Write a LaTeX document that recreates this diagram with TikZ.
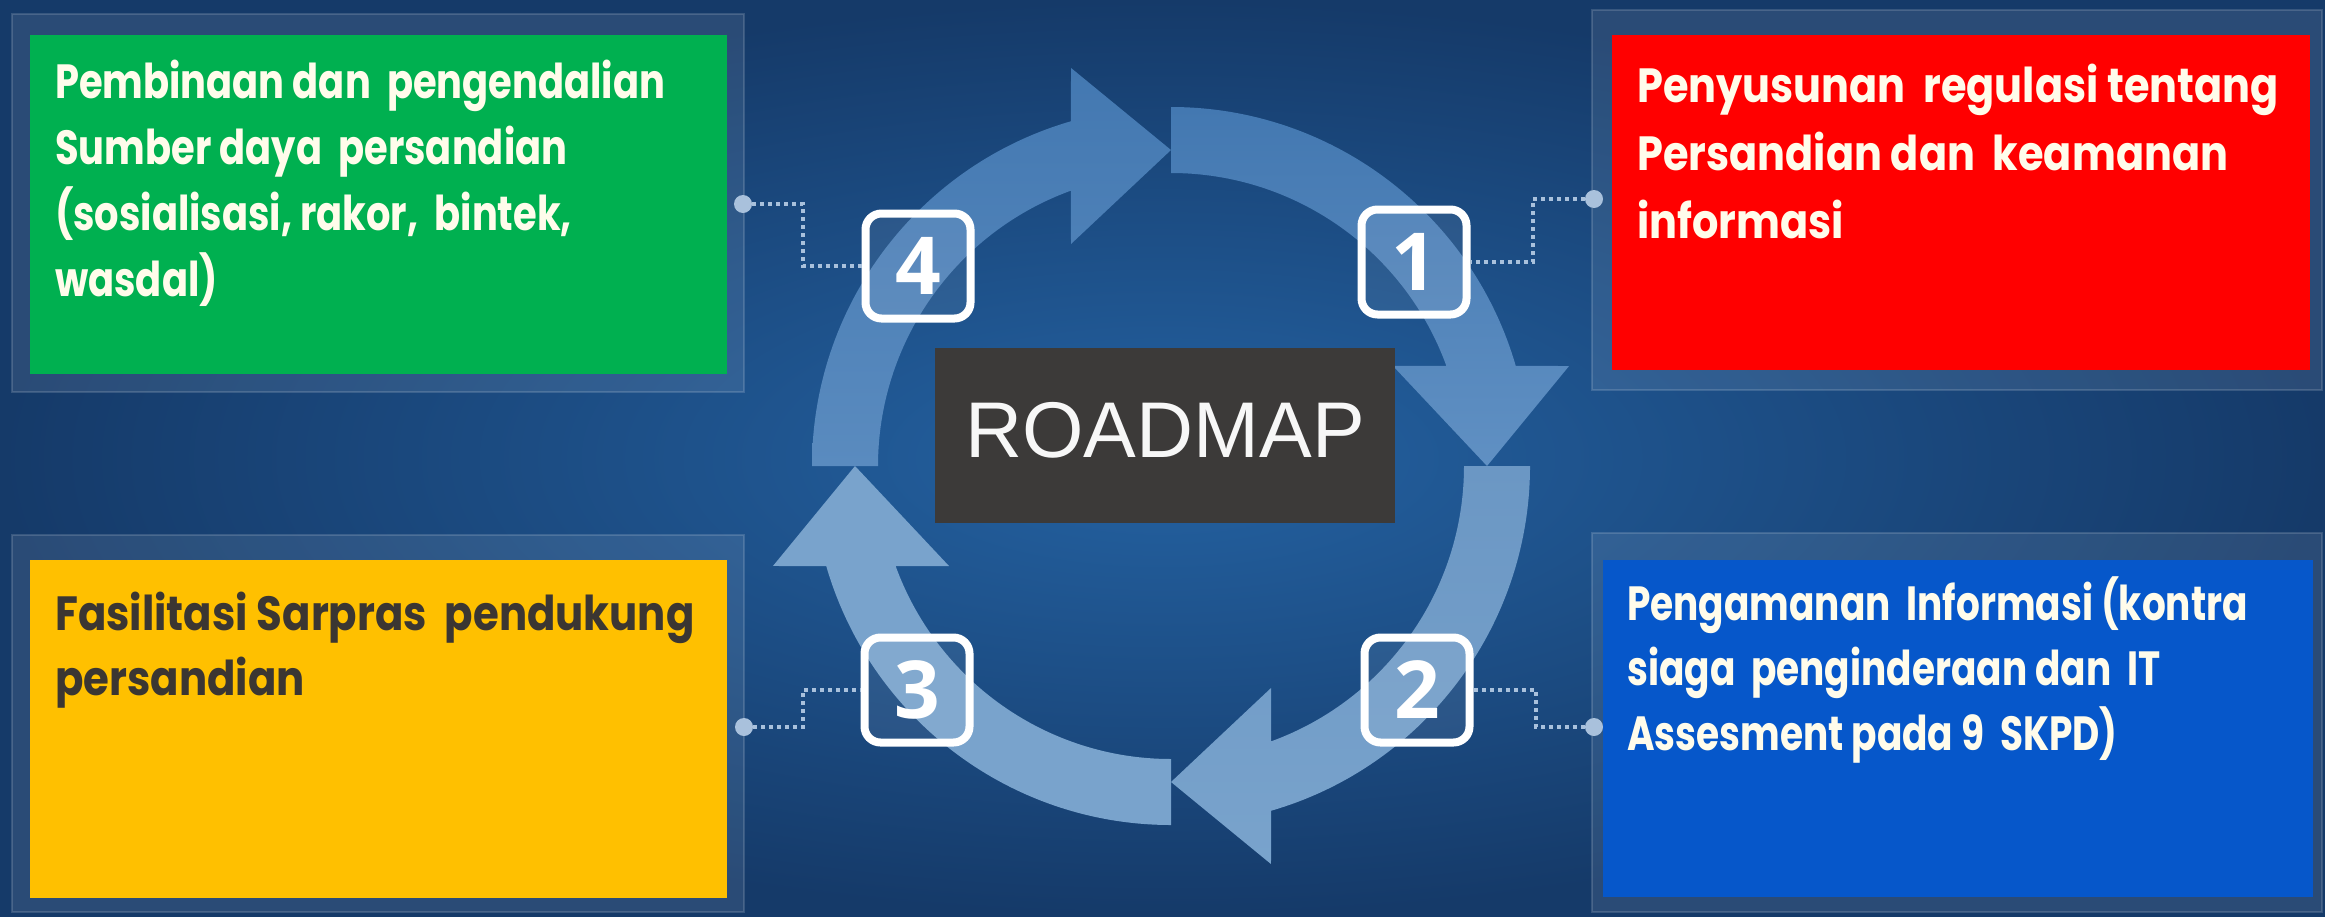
\documentclass[tikz,border=0pt]{standalone}
\usepackage{fontspec}
\setmainfont{Liberation Sans}
\newfontfamily\boxfont[FakeStretch=0.8]{Poppins}
\newfontfamily\numfont{Open Sans}
\definecolor{bgin}{HTML}{2462A2}
\definecolor{bgout}{HTML}{153A69}
\definecolor{cgreen}{HTML}{00B050}
\definecolor{cred}{HTML}{FF0000}
\definecolor{cyellow}{HTML}{FFC000}
\definecolor{cblue}{HTML}{0657CA}
\definecolor{cream}{HTML}{FFFCEB}
\definecolor{darktxt}{HTML}{3B3632}
\definecolor{roadbox}{HTML}{3C3A39}
\definecolor{dotc}{HTML}{A9C1DC}
\definecolor{arrA}{HTML}{4378B1}
\definecolor{arrB}{HTML}{6090C3}
\definecolor{arrC}{HTML}{6B97C4}
\definecolor{arrD}{HTML}{79A3CC}
\definecolor{arrE}{HTML}{5A8BBF}
\begin{document}
\begin{tikzpicture}[x=1pt,y=-1pt,
  frame/.style={fill=white, fill opacity=0.09, draw=white, draw opacity=0.15, line width=2pt},
  card/.style={anchor=north west, inner sep=0pt, outer sep=0pt},
  txt/.style={anchor=base west, inner sep=0pt, font=\boxfont\bfseries\fontsize{48}{66}\selectfont},
  numbox/.style={draw=white, line width=8pt, rounded corners=16pt, minimum size=105pt, fill=white, fill opacity=0.07, text opacity=1, font=\numfont\bfseries\fontsize{80}{80}\selectfont, text=white, inner sep=0pt},
  conn/.style={draw=dotc, line width=3.5pt, dash pattern=on 3.5pt off 4.5pt},
  dotnode/.style={circle, fill=dotc, minimum size=18pt, inner sep=0pt},
]
\useasboundingbox (0,0) rectangle (2325,916);
\shade[inner color=bgin, outer color=bgout] (0,0) rectangle (2325,916);

% frames
\path[frame] (12,14) rectangle (744,392);
\path[frame] (1592,10) rectangle (2322,390);
\path[frame] (12,535) rectangle (744,912);
\path[frame] (1592,533) rectangle (2322,912);

% cards
\node[card, fill=cgreen, minimum width=697pt, minimum height=339pt] (green) at (30,35) {};
\node[card, fill=cred, minimum width=698pt, minimum height=335pt] (red) at (1612,35) {};
\node[card, fill=cyellow, minimum width=697pt, minimum height=338pt] (yellow) at (30,560) {};
\node[card, fill=cblue, minimum width=710pt, minimum height=337pt] (blue) at (1603,560) {};

\node[txt, text=cream] (tgreen) at (55,98) {\vtop{\baselineskip=66pt
  \hbox{Pembinaan dan~ pengendalian}\hbox{Sumber daya~ persandian}\hbox{(sosialisasi, rakor,~ bintek,}\hbox{wasdal)}}};
\node[txt, text=cream] (tred) at (1637,102) {\scalebox{1.08}[1]{\vtop{\baselineskip=68pt
  \hbox{Penyusunan~ regulasi tentang}\hbox{Persandian dan~ keamanan}\hbox{informasi}}}};
\node[txt, text=darktxt] (tyellow) at (55,630) {\scalebox{1.09}[1]{\vtop{\baselineskip=65pt
  \hbox{Fasilitasi Sarpras~ pendukung}\hbox{persandian}}}};
\node[txt, text=cream] (tblue) at (1627,620) {\scalebox{0.975}[1]{\vtop{\baselineskip=65pt
  \hbox{Pengamanan~ Informasi (kontra}\hbox{siaga~ penginderaan dan~ IT}\hbox{Assesment pada 9~ SKPD)}}}};

% circular arrows
\begin{scope}[shift={(1171,466)}]
\foreach \k/\ca/\cb in {0/arrA/arrB, 1/arrC/arrD, 2/arrD/arrD, 3/arrA/arrE}{
  \path[top color=\ca, bottom color=\cb, draw=none]
    ({-90+90*\k}:359) arc[start angle={-90+90*\k}, end angle={-16.2+90*\k}, radius=359]
    -- ({-14.1+90*\k}:410.4) -- ({90*\k}:316) -- ({-24.25+90*\k}:243.5)
    -- ({-19.98+90*\k}:293) arc[start angle={-19.98+90*\k}, end angle={-90+90*\k}, radius=293]
    -- cycle;
}
\end{scope}

% roadmap
\node[card, fill=roadbox, minimum width=460pt, minimum height=175pt] (rm) at (935,348) {};
\node[anchor=base, inner sep=0pt, text=white!94!gray, font=\fontsize{79}{79}\selectfont] (rmtext) at (1165,457) {ROADMAP};

% number boxes
\node[numbox] (n1) at (1414,262) {1};
\node[numbox] (n2) at (1417,690) {2};
\node[numbox] (n3) at (917,690) {3};
\node[numbox] (n4) at (918,266) {4};

% connectors
\node[dotnode] (d1) at (1594,199) {};
\node[dotnode] (d2) at (1594,727) {};
\node[dotnode] (d3) at (744,727) {};
\node[dotnode] (d4) at (743,204) {};
\coordinate (k1) at (1533,199);
\coordinate (k2) at (1536,727);
\coordinate (k3) at (803,727);
\coordinate (k4) at (803,204);
\draw[conn] (d1) -- (k1) |- (n1.east);
\draw[conn] (d2) -- (k2) |- (n2.east);
\draw[conn] (d3) -- (k3) |- (n3.west);
\draw[conn] (d4) -- (k4) |- (n4.west);
\end{tikzpicture}
\end{document}
